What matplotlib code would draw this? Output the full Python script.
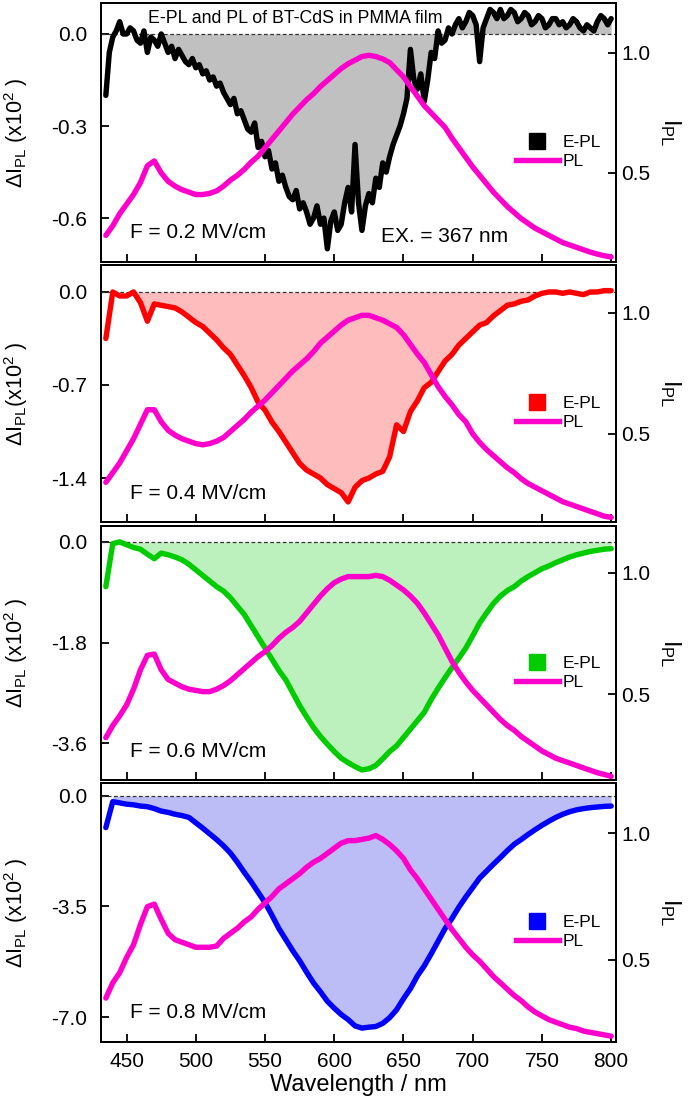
import matplotlib
matplotlib.use('Agg')
import matplotlib.pyplot as plt
from matplotlib.lines import Line2D

plt.rcParams['font.family'] = ['Liberation Sans', 'DejaVu Sans']
plt.rcParams['mathtext.fontset'] = 'custom'
plt.rcParams['mathtext.rm'] = 'Liberation Sans'
plt.rcParams['mathtext.it'] = 'Liberation Sans:italic'
plt.rcParams['mathtext.default'] = 'regular'

# ---------------- data ----------------
wavelength = list(range(435, 805, 5))
wavelength_fine = [435 + 2.5 * k for k in range(147)]

pl_02 = [0.24, 0.28, 0.33, 0.37, 0.41, 0.46, 0.53, 0.55, 0.50, 0.465,
         0.445, 0.43, 0.42, 0.41, 0.41, 0.415, 0.425, 0.445, 0.47, 0.49,
         0.515, 0.545, 0.57, 0.605, 0.64, 0.675, 0.71, 0.745, 0.775, 0.805,
         0.83, 0.86, 0.885, 0.91, 0.935, 0.955, 0.97, 0.985, 0.99, 0.985,
         0.975, 0.96, 0.93, 0.90, 0.86, 0.82, 0.78, 0.75, 0.72, 0.69,
         0.645, 0.605, 0.565, 0.525, 0.49, 0.455, 0.42, 0.39, 0.36, 0.335,
         0.31, 0.29, 0.27, 0.255, 0.24, 0.225, 0.21, 0.20, 0.19, 0.18,
         0.17, 0.162, 0.155, 0.15]
# E-PL at 0.2 MV/cm, read every 2.5 nm (noisy trace)
epl_02 = [-0.20, -0.06, -0.01, 0.01, 0.04, 0.00, 0.00, 0.02, 0.01, -0.02,
          -0.03, 0.01, -0.06, -0.01, -0.02, -0.04, 0.00, -0.03, -0.06, -0.04,
          -0.08, -0.05, -0.07, -0.09, -0.10, -0.08, -0.11, -0.10, -0.13, -0.12,
          -0.15, -0.14, -0.17, -0.16, -0.19, -0.21, -0.23, -0.21, -0.26, -0.25,
          -0.28, -0.31, -0.32, -0.29, -0.37, -0.35, -0.40, -0.38, -0.44, -0.42,
          -0.48, -0.46, -0.50, -0.53, -0.54, -0.51, -0.57, -0.55, -0.58, -0.62,
          -0.60, -0.56, -0.62, -0.60, -0.70, -0.61, -0.58, -0.64, -0.62, -0.55,
          -0.50, -0.58, -0.36, -0.55, -0.64, -0.56, -0.52, -0.55, -0.47, -0.50,
          -0.42, -0.45, -0.40, -0.36, -0.33, -0.30, -0.26, -0.21, -0.05, -0.15,
          -0.18, -0.13, -0.22, -0.15, -0.06, -0.08, 0.01, -0.03, -0.02, 0.02,
          0.00, 0.03, 0.05, 0.02, 0.04, 0.07, 0.06, 0.03, -0.09, 0.02,
          0.05, 0.08, 0.07, 0.05, 0.08, 0.05, 0.06, 0.08, 0.07, 0.04,
          0.05, 0.07, 0.06, 0.03, 0.04, 0.06, 0.05, 0.02, 0.03, 0.05,
          0.05, 0.03, 0.04, 0.02, 0.03, 0.05, 0.04, 0.02, 0.01, 0.03,
          0.02, 0.01, 0.04, 0.06, 0.05, 0.03, 0.05]

pl_04 = [0.30, 0.34, 0.38, 0.43, 0.48, 0.54, 0.60, 0.60, 0.55, 0.515,
         0.495, 0.48, 0.47, 0.46, 0.455, 0.46, 0.47, 0.485, 0.51, 0.535,
         0.56, 0.59, 0.615, 0.64, 0.67, 0.70, 0.73, 0.76, 0.785, 0.81,
         0.84, 0.875, 0.90, 0.925, 0.95, 0.97, 0.98, 0.99, 0.99, 0.98,
         0.97, 0.955, 0.94, 0.91, 0.87, 0.83, 0.795, 0.745, 0.695, 0.655,
         0.62, 0.58, 0.55, 0.50, 0.465, 0.435, 0.41, 0.385, 0.36, 0.34,
         0.315, 0.295, 0.28, 0.265, 0.25, 0.235, 0.22, 0.21, 0.20, 0.19,
         0.18, 0.17, 0.16, 0.155]
epl_04 = [-0.35, 0.00, -0.03, -0.03, 0.00, -0.08, -0.22, -0.09, -0.10, -0.11,
          -0.12, -0.15, -0.19, -0.23, -0.26, -0.31, -0.36, -0.42, -0.47, -0.55,
          -0.63, -0.72, -0.83, -0.89, -0.98, -1.05, -1.13, -1.21, -1.29, -1.34,
          -1.37, -1.40, -1.45, -1.48, -1.51, -1.58, -1.47, -1.42, -1.40, -1.37,
          -1.35, -1.24, -1.00, -1.05, -0.90, -0.82, -0.72, -0.68, -0.60, -0.52,
          -0.47, -0.40, -0.35, -0.30, -0.25, -0.23, -0.18, -0.14, -0.10, -0.09,
          -0.07, -0.06, -0.03, -0.01, 0.00, 0.00, -0.01, 0.00, -0.01, -0.02,
          0.00, 0.00, 0.01, 0.01]

pl_06 = [0.32, 0.37, 0.41, 0.455, 0.52, 0.60, 0.66, 0.665, 0.60, 0.56,
         0.545, 0.53, 0.52, 0.515, 0.51, 0.51, 0.52, 0.535, 0.555, 0.58,
         0.605, 0.63, 0.655, 0.675, 0.70, 0.73, 0.755, 0.775, 0.80, 0.835,
         0.87, 0.905, 0.935, 0.96, 0.975, 0.985, 0.985, 0.985, 0.985, 0.99,
         0.985, 0.97, 0.95, 0.93, 0.905, 0.875, 0.835, 0.79, 0.745, 0.69,
         0.635, 0.59, 0.55, 0.515, 0.485, 0.455, 0.425, 0.395, 0.37, 0.35,
         0.325, 0.305, 0.285, 0.265, 0.25, 0.235, 0.225, 0.215, 0.205, 0.195,
         0.185, 0.175, 0.168, 0.16]
epl_06 = [-0.80, -0.03, 0.00, -0.05, -0.10, -0.13, -0.22, -0.30, -0.20, -0.23,
          -0.27, -0.32, -0.40, -0.50, -0.60, -0.70, -0.80, -0.88, -1.00, -1.15,
          -1.30, -1.50, -1.70, -1.90, -2.10, -2.30, -2.47, -2.70, -2.93, -3.13,
          -3.32, -3.48, -3.62, -3.75, -3.87, -3.95, -4.02, -4.08, -4.06, -4.00,
          -3.88, -3.75, -3.65, -3.50, -3.35, -3.20, -3.05, -2.82, -2.62, -2.43,
          -2.25, -2.08, -1.90, -1.68, -1.45, -1.27, -1.10, -0.97, -0.87, -0.80,
          -0.70, -0.62, -0.55, -0.48, -0.43, -0.37, -0.32, -0.27, -0.23, -0.20,
          -0.17, -0.15, -0.13, -0.12]

pl_08 = [0.35, 0.41, 0.45, 0.51, 0.56, 0.64, 0.71, 0.72, 0.66, 0.605,
         0.58, 0.57, 0.56, 0.55, 0.55, 0.55, 0.555, 0.585, 0.605, 0.625,
         0.65, 0.67, 0.70, 0.725, 0.75, 0.78, 0.80, 0.82, 0.84, 0.865,
         0.885, 0.90, 0.92, 0.94, 0.96, 0.97, 0.97, 0.975, 0.98, 0.99,
         0.975, 0.955, 0.93, 0.90, 0.855, 0.82, 0.78, 0.74, 0.70, 0.66,
         0.62, 0.585, 0.55, 0.52, 0.495, 0.465, 0.435, 0.41, 0.385, 0.36,
         0.34, 0.315, 0.295, 0.28, 0.265, 0.255, 0.245, 0.235, 0.23, 0.22,
         0.215, 0.21, 0.205, 0.20]
epl_08 = [-1.00, -0.18, -0.22, -0.26, -0.28, -0.32, -0.34, -0.40, -0.48, -0.52,
          -0.58, -0.62, -0.68, -0.85, -1.02, -1.20, -1.38, -1.58, -1.81, -2.10,
          -2.42, -2.72, -3.05, -3.38, -3.78, -4.20, -4.55, -4.90, -5.22, -5.58,
          -5.92, -6.20, -6.50, -6.72, -6.92, -7.08, -7.28, -7.35, -7.32, -7.30,
          -7.20, -7.02, -6.77, -6.42, -6.10, -5.70, -5.38, -5.00, -4.60, -4.20,
          -3.88, -3.52, -3.20, -2.90, -2.60, -2.38, -2.16, -1.95, -1.73, -1.53,
          -1.38, -1.22, -1.07, -0.93, -0.80, -0.68, -0.58, -0.50, -0.44, -0.40,
          -0.37, -0.35, -0.33, -0.32]

fields = ['F = 0.2 MV/cm', 'F = 0.4 MV/cm', 'F = 0.6 MV/cm', 'F = 0.8 MV/cm']
epl_x = [wavelength_fine, wavelength, wavelength, wavelength]
epl_series = [epl_02, epl_04, epl_06, epl_08]
pl_series = [pl_02, pl_04, pl_06, pl_08]
left_ticks = [[0.0, -0.3, -0.6], [0.0, -0.7, -1.4], [0.0, -1.8, -3.6], [0.0, -3.5, -7.0]]
x_ticks = [450, 500, 550, 600, 650, 700, 750, 800]
right_ticks = [0.5, 1.0]

# ---------------- style ----------------
line_colors = ['#000000', '#ff0000', '#00cc00', '#0000ff']
fill_colors = ['#c0c0c0', '#ffbcbc', '#bcf0bc', '#bcbcf6']
fill_start = [476, 458, 452, 440]
pl_color = '#ff00cc'
left_lims = [(0.101, -0.743), (0.203, -1.731), (0.285, -4.26), (0.41, -7.79)]
right_lims = [(0.129, 1.208), (0.136, 1.198), (0.145, 1.194), (0.177, 1.197)]
ylabels = [r'$\Delta$I$_{PL}$ (x10$^2$ )', r'$\Delta$I$_{PL}$(x10$^2$ )',
           r'$\Delta$I$_{PL}$ (x10$^2$ )', r'$\Delta$I$_{PL}$ (x10$^2$ )']
W, H = 700, 1109
panel_px = [(3, 262), (265, 522), (526, 780), (783, 1042)]
left_px, right_px = 101, 616
LW = 3.9

fig = plt.figure(figsize=(W / 100, H / 100), dpi=100)

for i in range(4):
    top, bot = panel_px[i]
    ax = fig.add_axes([left_px / W, 1 - bot / H, (right_px - left_px) / W, (bot - top) / H])
    ax2 = ax.twinx()

    xs = epl_x[i]
    ys = epl_series[i]
    ax.fill_between(xs, ys, 0, where=[x >= fill_start[i] for x in xs],
                    color=fill_colors[i], lw=0, zorder=1, interpolate=True)
    ax.axhline(0, color='#333333', lw=0.9, ls=(0, (3, 2)), zorder=2)
    ax.plot(xs, ys, color=line_colors[i], lw=LW,
            solid_joinstyle='round', solid_capstyle='round', zorder=3)
    ax2.plot(wavelength, pl_series[i], color=pl_color, lw=LW,
             solid_joinstyle='round', solid_capstyle='round')

    ax.set_xlim(431.5, 803.5)
    ax.set_ylim(left_lims[i][1], left_lims[i][0])
    ax2.set_ylim(right_lims[i][0], right_lims[i][1])

    ax.set_yticks(left_ticks[i])
    ax.set_yticklabels(['%.1f' % v for v in left_ticks[i]])
    ax2.set_yticks(right_ticks)
    ax2.set_yticklabels(['%.1f' % v for v in right_ticks])
    ax.set_xticks(x_ticks)

    for a in (ax, ax2):
        for s in a.spines.values():
            s.set_linewidth(1.4)
    ax.tick_params(axis='both', direction='in', length=6, width=1.3,
                   labelsize=15, top=False, right=False, pad=10)
    ax.tick_params(axis='x', pad=7)
    ax2.tick_params(axis='y', direction='in', length=6, width=1.3,
                    labelsize=15, pad=4)
    if i < 3:
        ax.tick_params(axis='x', labelbottom=False)
    else:
        ax.set_xlabel('Wavelength / nm', fontsize=17, labelpad=2)

    ax.set_ylabel(ylabels[i], fontsize=15.5)
    ax.yaxis.set_label_coords(-0.138, 0.5)
    ax2.set_ylabel(r'I$_{PL}$', fontsize=17, rotation=270)
    ax2.yaxis.set_label_coords(1.13, 0.5)

    ax2.text(0.056, 0.112, fields[i], transform=ax.transAxes, fontsize=15,
             ha='left', va='center', zorder=5)

    handles = [Line2D([], [], marker='s', ms=11, color=line_colors[i], ls='None'),
               Line2D([], [], color=pl_color, lw=LW)]
    ax2.legend(handles, ['E-PL', 'PL'], loc='upper left', bbox_to_anchor=(0.805, 0.49),
               frameon=False, fontsize=12.5, handlelength=2.5, handletextpad=0.2,
               labelspacing=0.22, borderaxespad=0, borderpad=0)

    if i == 0:
        ax2.text(0.377, 0.942, 'E-PL and PL of BT-CdS in PMMA film', transform=ax.transAxes,
                 fontsize=12.8, ha='center', va='center', zorder=5)
        ax2.text(0.544, 0.097, 'EX. = 367 nm', transform=ax.transAxes, fontsize=15,
                 ha='left', va='center', zorder=5)

fig.savefig('out.png', dpi=100)
